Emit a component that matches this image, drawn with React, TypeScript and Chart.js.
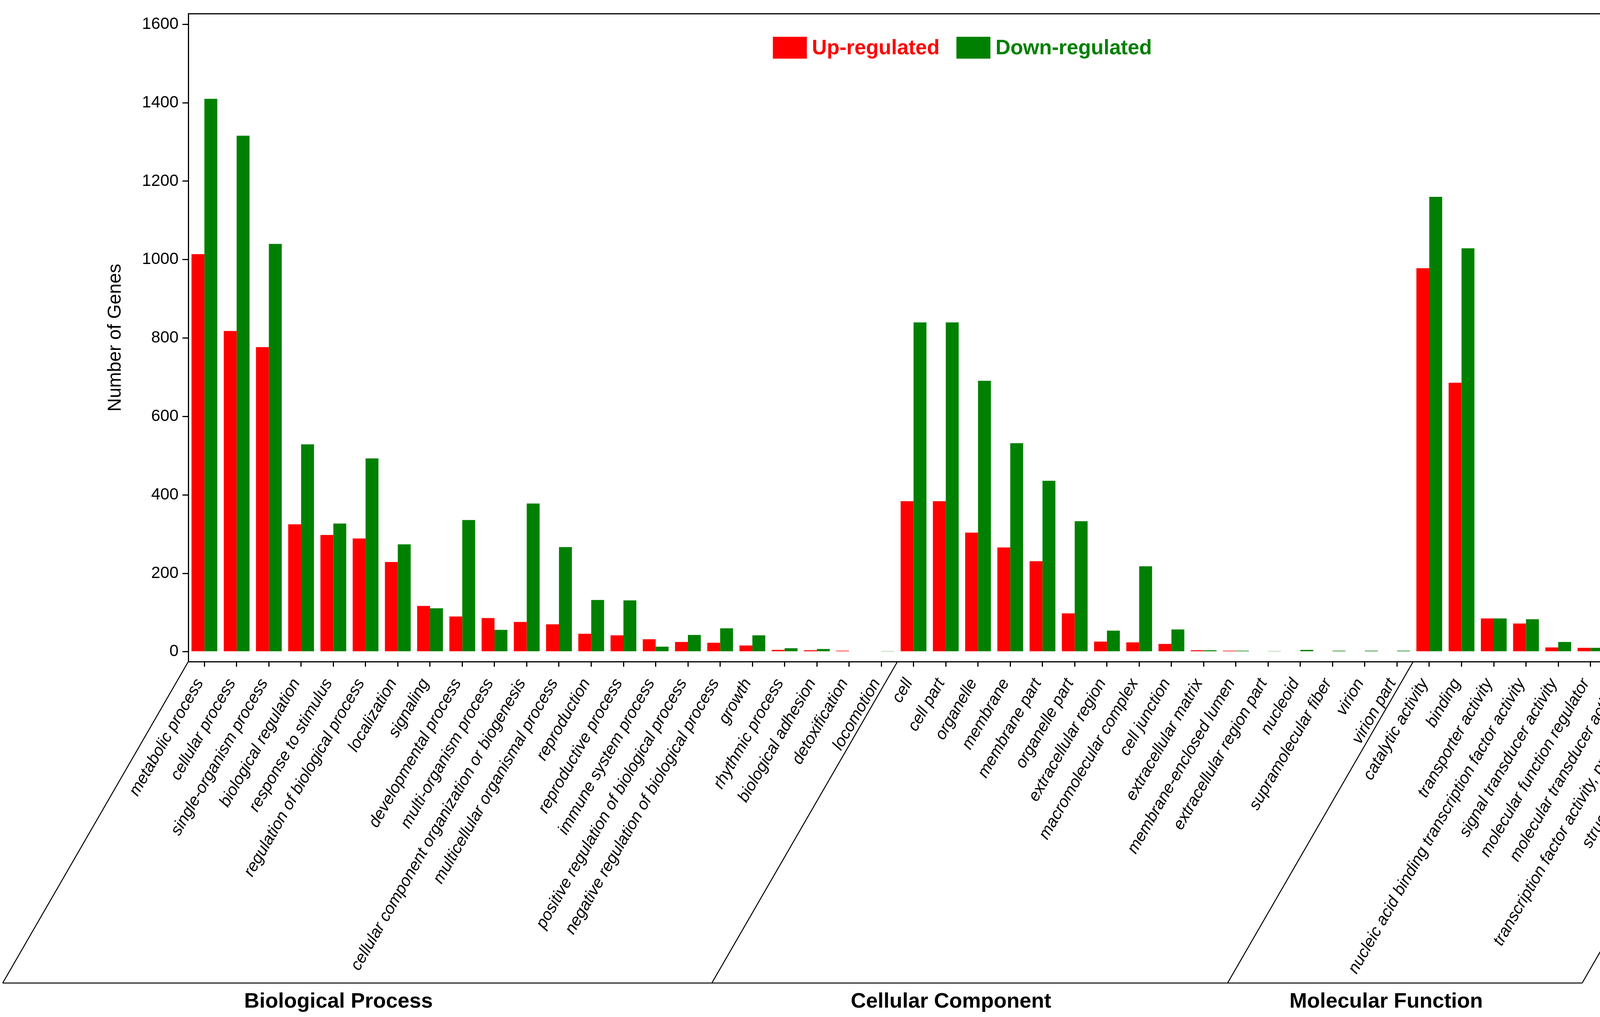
import React, { useEffect, useRef } from 'react';
import { Chart, registerables } from 'chart.js';

Chart.register(...registerables);

// GO terms, in plotting order
const categories = [
  // Biological Process
  'metabolic process',
  'cellular process',
  'single-organism process',
  'biological regulation',
  'response to stimulus',
  'regulation of biological process',
  'localization',
  'signaling',
  'developmental process',
  'multi-organism process',
  'cellular component organization or biogenesis',
  'multicellular organismal process',
  'reproduction',
  'reproductive process',
  'immune system process',
  'positive regulation of biological process',
  'negative regulation of biological process',
  'growth',
  'rhythmic process',
  'biological adhesion',
  'detoxification',
  'locomotion',
  // Cellular Component
  'cell',
  'cell part',
  'organelle',
  'membrane',
  'membrane part',
  'organelle part',
  'extracellular region',
  'macromolecular complex',
  'cell junction',
  'extracellular matrix',
  'membrane-enclosed lumen',
  'extracellular region part',
  'nucleoid',
  'supramolecular fiber',
  'virion',
  'virion part',
  // Molecular Function
  'catalytic activity',
  'binding',
  'transporter activity',
  'nucleic acid binding transcription factor activity',
  'signal transducer activity',
  'molecular function regulator',
  'molecular transducer activity',
  'transcription factor activity, protein binding',
  'structural molecule activity',
  'antioxidant activity',
  'electron carrier activity',
];

const upRegulated = [
  1014, 818, 777, 325, 298, 289, 229, 117, 90, 86, 76, 70, 46, 42, 32, 25, 23, 16, 5, 4, 3, 0,
  384, 384, 304, 266, 231, 98, 26, 24, 20, 4, 3, 0, 0, 0, 0, 0,
  978, 686, 85, 72, 11, 10, 10, 3, 2, 0, 0,
];

const downRegulated = [
  1410, 1316, 1040, 529, 327, 493, 274, 111, 336, 56, 378, 267, 132, 131, 13, 43, 60, 42, 9, 7, 0, 1,
  840, 840, 691, 532, 436, 333, 54, 218, 57, 4, 3, 1, 5, 3, 3, 3,
  1160, 1029, 85, 83, 25, 10, 21, 5, 42, 9, 5,
];

const groupNames = ['Biological Process', 'Cellular Component', 'Molecular Function'];
const groupSizes = [22, 16, 11];

const yTicks = [0, 200, 400, 600, 800, 1000, 1200, 1400, 1600];

const FONT = "'Liberation Sans', Arial, Helvetica, sans-serif";
const RED = '#ff0000';
const GREEN = '#008000';

// frame, slanted group boxes and group names under the x axis
const groupPlugin = {
  id: 'goGroups',
  afterDraw(chart: any) {
    const { ctx, chartArea } = chart;
    const xs = chart.scales.x;
    const step = xs.getPixelForValue(1) - xs.getPixelForValue(0);
    const depth = 823;
    const shift = depth / Math.tan(Math.PI / 3);
    const yTop = chartArea.bottom;
    const yBot = yTop + depth;

    ctx.save();
    ctx.strokeStyle = '#000';
    ctx.lineWidth = 3;

    // top and right sides of the plot box
    ctx.beginPath();
    ctx.moveTo(chartArea.left, chartArea.top);
    ctx.lineTo(chartArea.right, chartArea.top);
    ctx.lineTo(chartArea.right, chartArea.bottom);
    ctx.stroke();

    const bounds = [chartArea.left];
    let idx = 0;
    groupSizes.forEach((n) => {
      idx += n;
      bounds.push(xs.getPixelForValue(idx - 1) + step / 2);
    });

    ctx.lineWidth = 2.5;
    ctx.beginPath();
    ctx.moveTo(bounds[0] - shift, yBot);
    ctx.lineTo(bounds[bounds.length - 1] - shift, yBot);
    ctx.stroke();
    bounds.forEach((b) => {
      ctx.beginPath();
      ctx.moveTo(b, yTop);
      ctx.lineTo(b - shift, yBot);
      ctx.stroke();
    });

    ctx.font = `bold 54px ${FONT}`;
    ctx.fillStyle = '#000';
    ctx.textAlign = 'center';
    ctx.textBaseline = 'middle';
    groupNames.forEach((name, i) => {
      const cx = (bounds[i] + bounds[i + 1]) / 2 - shift - 48;
      ctx.fillText(name, cx, yBot + 48);
    });
    ctx.restore();
  },
};

// legend drawn inside the plot, near the top
const legendPlugin = {
  id: 'insideLegend',
  afterDraw(chart: any) {
    const { ctx, chartArea } = chart;
    const items = chart.data.datasets.map((ds: any) => ({ text: ds.label, color: ds.backgroundColor }));
    const boxW = 87;
    const boxH = 56;
    const gap = 13;
    const itemGap = 43;
    ctx.save();
    ctx.font = `bold 53px ${FONT}`;
    const widths = items.map((it: any) => boxW + gap + ctx.measureText(it.text).width);
    const total = widths.reduce((a: number, b: number) => a + b, 0) + itemGap * (items.length - 1);
    let x = (chartArea.left + chartArea.right) / 2 - 40 - total / 2;
    const top = chartArea.top + 59;
    ctx.textAlign = 'left';
    ctx.textBaseline = 'middle';
    items.forEach((it: any, i: number) => {
      ctx.fillStyle = it.color;
      ctx.fillRect(x, top, boxW, boxH);
      ctx.fillText(it.text, x + boxW + gap, top + boxH / 2 + 2);
      x += widths[i] + itemGap;
    });
    ctx.restore();
  },
};

const App: React.FC = () => {
  const canvasRef = useRef<HTMLCanvasElement>(null);

  useEffect(() => {
    document.body.style.margin = '0';
    if (!canvasRef.current) return;

    const chart = new Chart(canvasRef.current, {
      type: 'bar',
      data: {
        labels: categories,
        datasets: [
          {
            label: 'Up-regulated',
            data: upRegulated,
            backgroundColor: RED,
            borderWidth: 0,
            categoryPercentage: 0.8,
            barPercentage: 1.0,
          },
          {
            label: 'Down-regulated',
            data: downRegulated,
            backgroundColor: GREEN,
            borderWidth: 0,
            categoryPercentage: 0.8,
            barPercentage: 1.0,
          },
        ],
      },
      options: {
        animation: false,
        responsive: true,
        maintainAspectRatio: false,
        devicePixelRatio: 1,
        layout: {
          autoPadding: false,
          padding: { left: 263, top: 17, right: 17, bottom: 0 },
        },
        plugins: {
          legend: { display: false },
          tooltip: { enabled: false },
        },
        scales: {
          x: {
            offset: true,
            afterFit: (scale: any) => {
              scale.height = 910;
            },
            border: { display: true, color: '#000', width: 3 },
            grid: {
              display: true,
              offset: false,
              drawOnChartArea: false,
              drawTicks: true,
              tickLength: 13,
              color: '#000',
              lineWidth: 3,
            },
            ticks: {
              autoSkip: false,
              minRotation: 60,
              maxRotation: 60,
              padding: 22,
              labelOffset: -12,
              color: '#000',
              font: { family: FONT, size: 42, style: 'italic' },
            },
          },
          y: {
            min: -25,
            max: 1627,
            afterFit: (scale: any) => {
              scale.width = 219;
            },
            afterBuildTicks: (scale: any) => {
              scale.ticks = yTicks.map((v) => ({ value: v }));
            },
            border: { display: true, color: '#000', width: 3 },
            grid: {
              display: true,
              drawOnChartArea: false,
              drawTicks: true,
              tickLength: 15,
              color: '#000',
              lineWidth: 3,
            },
            ticks: {
              padding: 10,
              color: '#000',
              font: { family: FONT, size: 42 },
              callback: (value: any) => String(value),
            },
            title: {
              display: true,
              text: 'Number of Genes',
              color: '#000',
              font: { family: FONT, size: 48 },
            },
          },
        },
      },
      plugins: [groupPlugin, legendPlugin],
    });

    return () => {
      chart.destroy();
    };
  }, []);

  return (
    <div style={{ width: 4550, height: 2604, position: 'relative', background: '#fff' }}>
      <canvas ref={canvasRef} />
    </div>
  );
};

export default App;
